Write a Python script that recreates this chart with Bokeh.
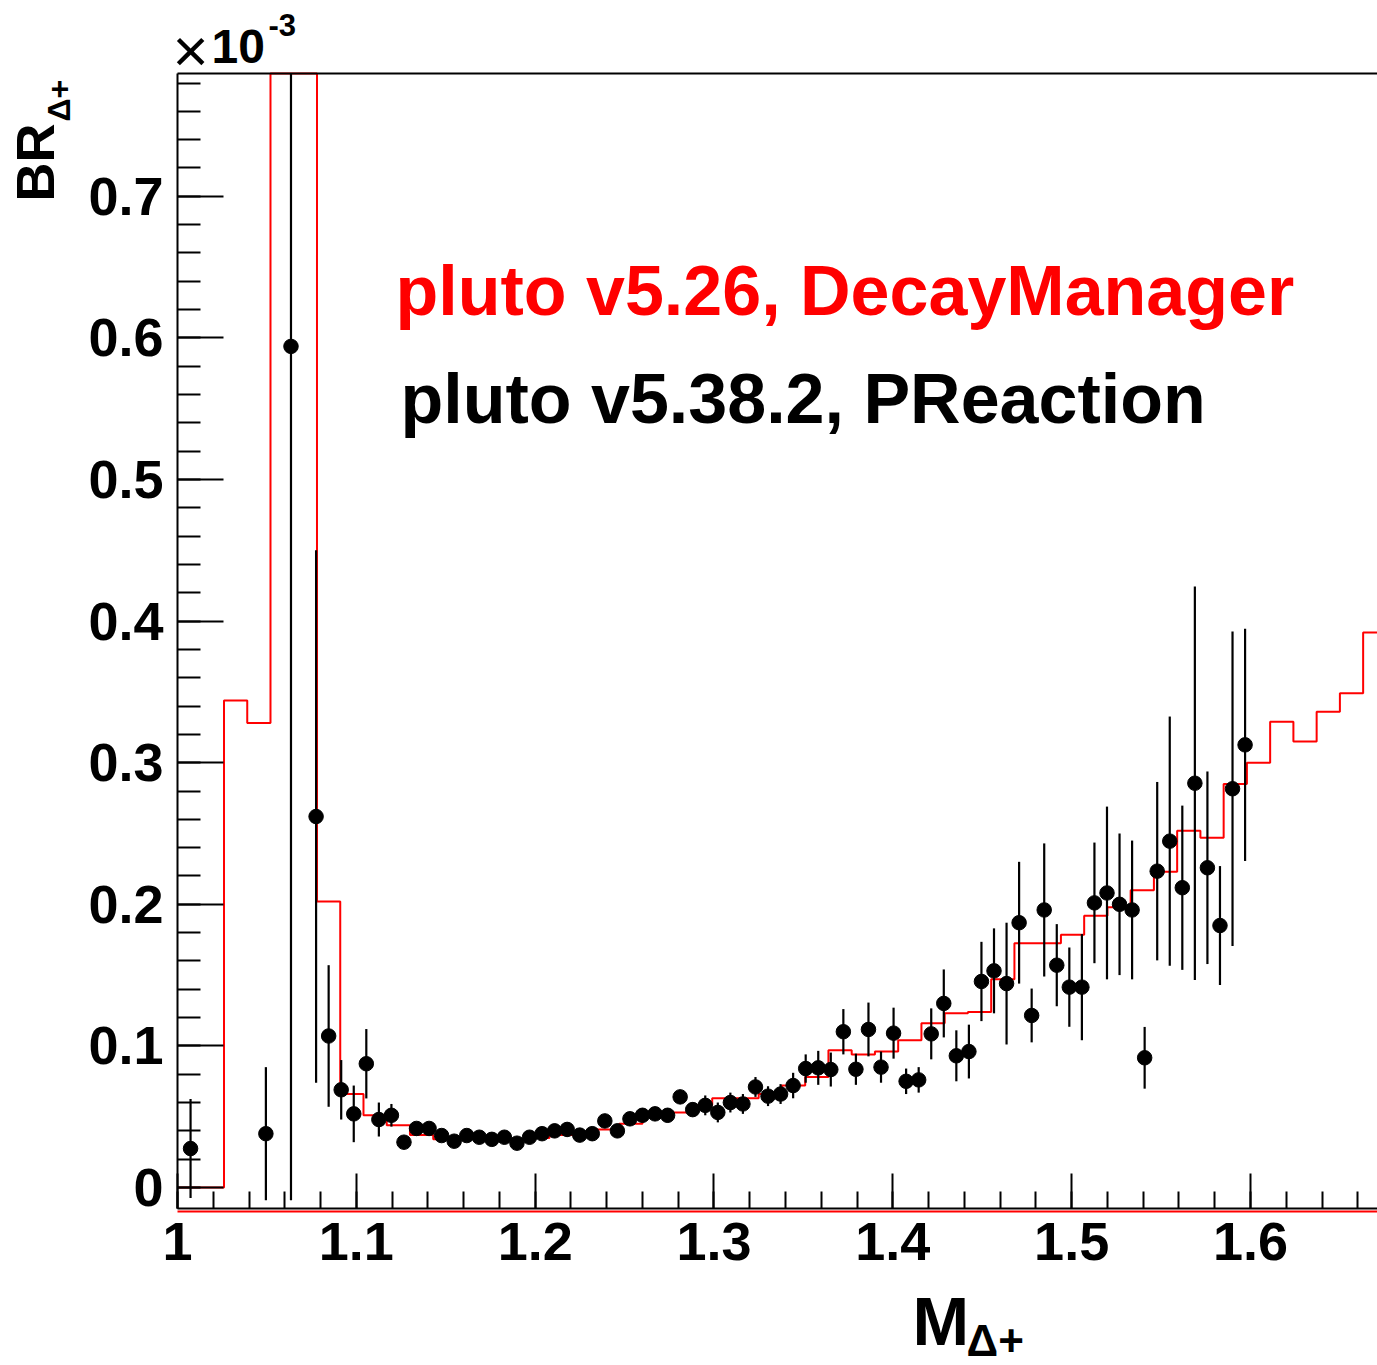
import numpy as np
from bokeh.plotting import figure
from bokeh.models import (Range1d, SingleIntervalTicker, FixedTicker, CustomJSTickFormatter,
                          Label, ColumnDataSource, LinearAxis)
from bokeh.embed import file_html
from bokeh.resources import INLINE

# ---------------- data (values in units of 1e-3) ----------------
# red histogram: pluto v5.26, DecayManager  (bins of width 0.013 starting at 1.0)
red_bin_start = 1.0
red_bin_width = 0.013
red_values = [0.0, 0.0, 0.344, 0.328, 1.5, 1.2, 0.202, 0.066, 0.051, 0.044,
              0.037, 0.034, 0.035, 0.035, 0.034, 0.035, 0.037, 0.039, 0.041, 0.045,
              0.050, 0.053, 0.058, 0.063, 0.063, 0.066, 0.072, 0.078, 0.097, 0.094,
              0.096, 0.104, 0.116, 0.123, 0.124, 0.147, 0.1725, 0.1725, 0.1785, 0.192,
              0.198, 0.210, 0.223, 0.252, 0.247, 0.285, 0.300, 0.329, 0.315, 0.336,
              0.349, 0.392]

# black points: pluto v5.38.2, PReaction  (bins of width 0.00702, first centre 1.0073)
black_first_center = 1.0073
black_bin_width = 0.00702
black_values = [0.0275, None, None, None, None, None, 0.038, None, 0.594, None,
                0.262, 0.107, 0.069, 0.052, 0.0874, 0.048, 0.051, 0.032, 0.0417, 0.0417,
                0.0367, 0.0327, 0.0367, 0.0355, 0.034, 0.0355, 0.0313, 0.0355, 0.038, 0.040,
                0.041, 0.037, 0.038, 0.047, 0.040, 0.0485, 0.051, 0.052, 0.051, 0.064,
                0.055, 0.058, 0.053, 0.060, 0.059, 0.071, 0.0645, 0.066, 0.072, 0.084,
                0.0845, 0.0833, 0.110, 0.0835, 0.1116, 0.085, 0.109, 0.075, 0.076, 0.1085,
                0.130, 0.093, 0.096, 0.1455, 0.153, 0.144, 0.187, 0.1215, 0.196, 0.157,
                0.1415, 0.1415, 0.201, 0.208, 0.200, 0.196, 0.0916, 0.2234, 0.2446, 0.2117,
                0.2855, 0.2258, 0.185, 0.2816, 0.3126]
black_errors = [0.035, None, None, None, None, None, 0.047, None, 0.603, None,
                0.188, 0.050, 0.021, 0.020, 0.0245, 0.012, 0.008, 0.004, 0.004, 0.004,
                0.004, 0.004, 0.004, 0.004, 0.004, 0.004, 0.004, 0.004, 0.004, 0.005,
                0.005, 0.005, 0.005, 0.005, 0.005, 0.005, 0.005, 0.005, 0.005, 0.005,
                0.005, 0.007, 0.007, 0.007, 0.007, 0.007, 0.007, 0.007, 0.009, 0.010,
                0.012, 0.012, 0.016, 0.011, 0.019, 0.011, 0.018, 0.009, 0.009, 0.018,
                0.024, 0.018, 0.019, 0.028, 0.030, 0.043, 0.043, 0.019, 0.047, 0.029,
                0.028, 0.0375, 0.0426, 0.061, 0.050, 0.049, 0.0218, 0.063, 0.088, 0.058,
                0.139, 0.068, 0.042, 0.111, 0.082]

x_title = "M"
y_title = "BR"
sub_title = "\u0394+"
legend_red = "pluto v5.26, DecayManager"
legend_black = "pluto v5.38.2, PReaction"

# ---------------- layout ----------------
W, H = 1377, 1365
PX_PER_X = 1788.3        # pixels per unit of x
PX_PER_Y = 1416.0        # pixels per 1e-3 of y
X_ORIG_PX, Y_ORIG_PX = 177, 1187   # pixel position of x=1, y=0

xr0 = 1 - X_ORIG_PX / PX_PER_X
xr1 = 1 + (W - X_ORIG_PX) / PX_PER_X
yr1 = Y_ORIG_PX / PX_PER_Y
yr0 = (Y_ORIG_PX - H) / PX_PER_Y

# histogram frame (axis bounds)
FX0, FX1 = 1.0, xr1
FY0, FY1 = (Y_ORIG_PX - 1208) / PX_PER_Y, (Y_ORIG_PX - 73) / PX_PER_Y

FONT = "Liberation Sans"

p = figure(width=W, height=H, output_backend="svg", toolbar_location=None,
           x_range=Range1d(xr0, xr1), y_range=Range1d(yr0, yr1))
p.min_border = 0
p.outline_line_color = None
p.background_fill_color = "white"
p.border_fill_color = "white"
p.xgrid.visible = False
p.ygrid.visible = False

# red line just under the x axis
red_under = LinearAxis(fixed_location=FY0 - 2.5 / PX_PER_Y, bounds=(FX0, FX1),
                       ticker=FixedTicker(ticks=[]), axis_line_color="#ff0000",
                       axis_line_width=2, major_label_text_alpha=0)
p.add_layout(red_under, "below")

fmt = CustomJSTickFormatter(code="return (Math.round(tick*10)/10).toString();")
xa, ya = p.xaxis[0], p.yaxis[0]
xa.fixed_location = FY0
xa.bounds = (FX0, FX1)
ya.fixed_location = FX0
ya.bounds = (FY0, FY1)
for ax, tin, tmin in ((xa, 35, 17), (ya, 46, 23)):
    ax.ticker = SingleIntervalTicker(interval=0.1, num_minor_ticks=5)
    ax.formatter = fmt
    ax.major_tick_in = tin
    ax.major_tick_out = 0
    ax.minor_tick_in = tmin
    ax.minor_tick_out = 0
    ax.major_tick_line_width = 2
    ax.minor_tick_line_width = 2
    ax.major_tick_line_color = "black"
    ax.minor_tick_line_color = "black"
    ax.axis_line_color = "black"
    ax.axis_line_width = 2
    ax.major_label_text_font = FONT
    ax.major_label_text_font_style = "bold"
    ax.major_label_text_font_size = "54px"
    ax.major_label_text_color = "black"
ya.major_label_standoff = 14
xa.major_label_standoff = 14

# frame top line
top = LinearAxis(fixed_location=FY1, bounds=(FX0, FX1), ticker=FixedTicker(ticks=[]),
                 axis_line_color="black", axis_line_width=2, major_label_text_alpha=0)
p.add_layout(top, "above")

# red histogram
edges = red_bin_start + red_bin_width * np.arange(len(red_values) + 1)
rv = np.clip(np.array(red_values + [red_values[-1]]), FY0, FY1)
p.step(edges, rv, mode="after", line_color="#ff0000", line_width=2)

# black points with error bars
idx = [i for i, v in enumerate(black_values) if v is not None]
bx = np.array([black_first_center + black_bin_width * i for i in idx])
by = np.array([black_values[i] for i in idx])
be = np.array([black_errors[i] for i in idx])
src = ColumnDataSource(dict(x=bx, y=by,
                            lo=np.clip(by - be, FY0, FY1), hi=np.clip(by + be, FY0, FY1)))
p.segment(x0="x", y0="lo", x1="x", y1="hi", source=src, line_color="black", line_width=2.2)
p.scatter(x="x", y="y", source=src, size=14.5, marker="circle",
          fill_color="black", line_color="black")


def X(px):
    return 1 + (px - X_ORIG_PX) / PX_PER_X


def Y(py):
    return (Y_ORIG_PX - py) / PX_PER_Y


MID = 0.3465  # distance baseline -> middle of text box, in em


def lab(text, px, base_py, size, color="black", style="bold"):
    p.add_layout(Label(x=X(px), y=Y(base_py - MID * size), text=text, text_font=FONT,
                       text_font_size=f"{size}px", text_font_style=style,
                       text_color=color, text_align="left", text_baseline="middle"))


def vlab(text, base_px, start_py, size, color="black", style="bold"):
    p.add_layout(Label(x=X(base_px - MID * size), y=Y(start_py), text=text, text_font=FONT,
                       text_font_size=f"{size}px", text_font_style=style,
                       text_color=color, text_align="left", text_baseline="middle",
                       angle=np.pi / 2))


# legend texts
lab(legend_red, 395, 315, 70, color="#ff0000")
lab(legend_black, 400, 423, 70)

# multiplier
lab("\u00d7", 172, 71, 62, style="normal")
lab("10", 211, 63, 48)
lab("-3", 268, 35, 31)

# axis titles
vlab(y_title, 53, 201, 54)
vlab(sub_title, 70, 121, 32)
lab(x_title, 912, 1344, 68)
lab(sub_title, 966, 1355, 44)

open("out.html", "w").write(file_html(p, INLINE))
